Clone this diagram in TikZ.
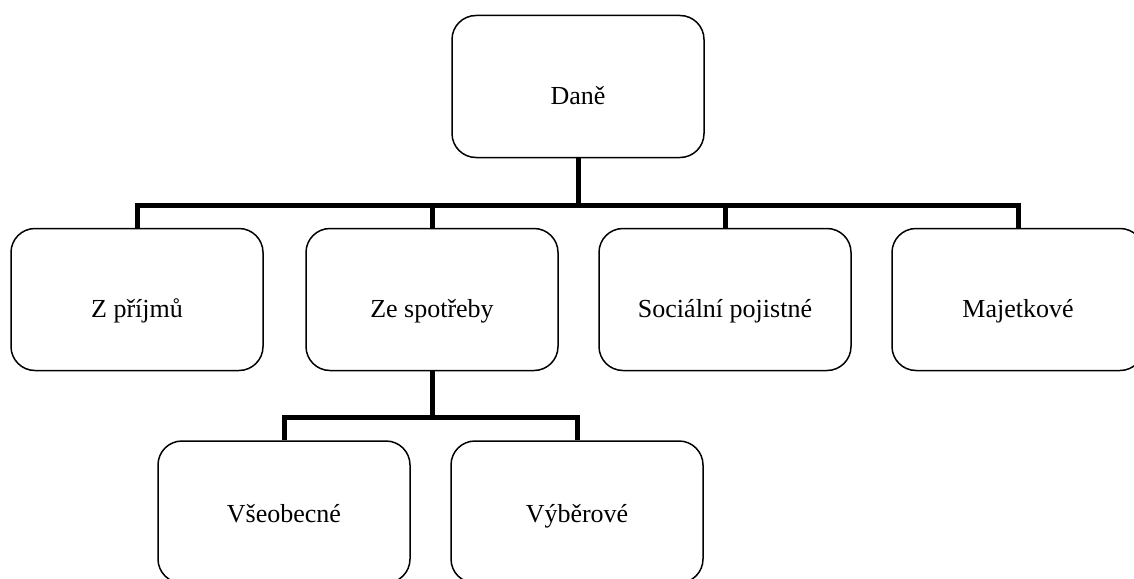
\documentclass[tikz,border=0pt]{standalone}
\usepackage{fontspec}
\setmainfont{Liberation Serif}
\usetikzlibrary{positioning}

\tikzset{
    box/.style={draw, rounded corners=24pt, line width=1.5pt, minimum width=252pt, minimum height=142pt,
        inner sep=0pt, text height=40pt, text depth=4pt},
    lowbox/.style={box, text height=24pt},
    conn/.style={line width=5pt},
}

\begin{document}
\begin{tikzpicture}[x=1pt, y=-1pt, font=\fontsize{26}{30}\selectfont]
    \useasboundingbox (0,0) rectangle (1134,578);
    % top
    \node[box] (dane) at (578,86.5) {Daně};
    % second row
    \node[box] (prijmy) at (137,299.5) {Z příjmů};
    \node[box] (spotreba) at (432,299.5) {Ze spotřeby};
    \node[box] (socialni) at (725,299.5) {Sociální pojistné};
    \node[box] (majetek) at (1018,299.5) {Majetkové};
    % third row
    \node[lowbox] (vseob) at (284,512) {Všeobecné};
    \node[lowbox] (vyber) at (577,512) {Výběrové};
    % connectors
    \coordinate (bar1) at (dane.south |- 0,205);
    \draw[conn] (dane.south) -- (bar1);
    \foreach \n in {prijmy,spotreba,socialni,majetek}
        \draw[conn] (bar1) -| (\n.north);
    \coordinate (bar2) at (spotreba.south |- 0,417);
    \draw[conn] (spotreba.south) -- (bar2);
    \foreach \n in {vseob,vyber}
        \draw[conn] (bar2) -| (\n.north);
\end{tikzpicture}
\end{document}
